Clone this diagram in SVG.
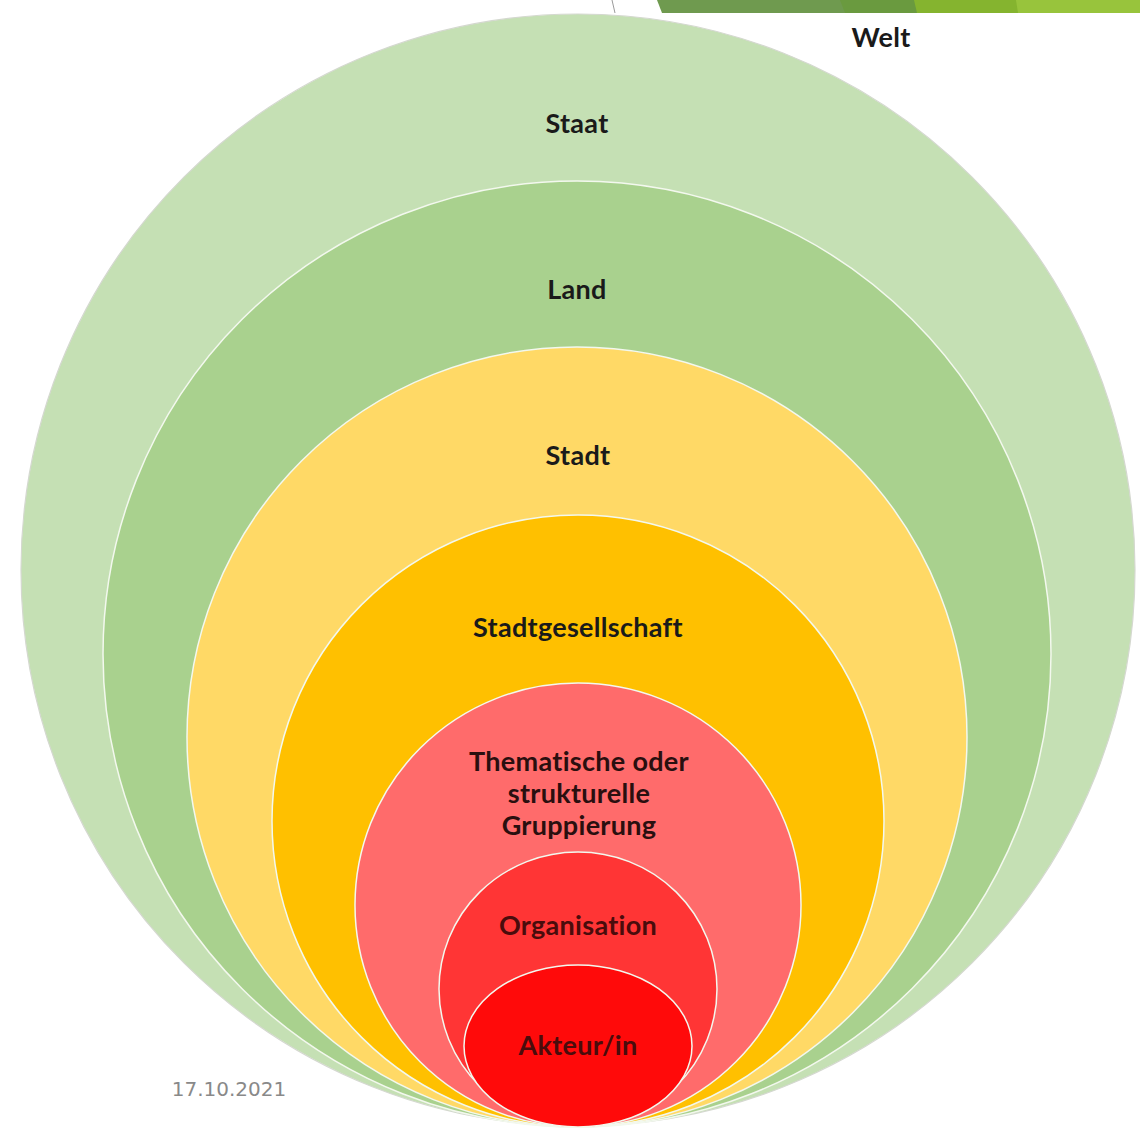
<svg xmlns="http://www.w3.org/2000/svg" width="1140" height="1131" viewBox="0 0 1140 1131">
<style>
.lbl{font-family:Lato,"Open Sans","Liberation Sans",sans-serif;font-weight:bold;font-size:27px;letter-spacing:0.3px;text-anchor:middle;fill:#1a1a1a}
.red{fill:#4a0c0c}
.ring{stroke:#f3f8ee;stroke-width:1.5}
</style>
<rect width="1140" height="1131" fill="#ffffff"/>
<g id="banner">
<line x1="612" y1="0" x2="615" y2="13" stroke="#9a9a9a" stroke-width="1"/>
<polygon points="657,0 842,0 846,13 662,13" fill="#6f9a4f"/>
<polygon points="840,0 916,0 918,13 845,13" fill="#6a9a3f"/>
<polygon points="914,0 1018,0 1019,13 917,13" fill="#85b42f"/>
<polygon points="1016,0 1140,0 1140,13 1018,13" fill="#98c43c"/>
</g>
<g id="staat">
<ellipse cx="578" cy="570" rx="557" ry="556" fill="#c5e0b4" stroke="#d4d8cf" stroke-width="1.2"/>
<text class="lbl" x="577" y="133">Staat</text>
</g>
<g id="land">
<ellipse class="ring" cx="577" cy="654" rx="474" ry="473" fill="#a9d18e"/>
<text class="lbl" x="577" y="299">Land</text>
</g>
<g id="stadt">
<ellipse class="ring" cx="577" cy="737" rx="390" ry="390" fill="#ffd966" stroke="#fff3c4"/>
<text class="lbl" x="578" y="465">Stadt</text>
</g>
<g id="stadtgesellschaft">
<ellipse class="ring" cx="578" cy="821" rx="306" ry="306" fill="#ffc000" stroke="#ffe9a0"/>
<text class="lbl" x="578" y="637">Stadtgesellschaft</text>
</g>
<g id="gruppierung">
<ellipse class="ring" cx="578" cy="905" rx="223" ry="222" fill="#ff6b6b" stroke="#ffd0d0"/>
<text class="lbl" x="579" y="771" style="fill:#2a0f0f">Thematische oder</text>
<text class="lbl" x="579" y="803" style="fill:#2a0f0f">strukturelle</text>
<text class="lbl" x="579" y="835" style="fill:#2a0f0f">Gruppierung</text>
</g>
<g id="organisation">
<ellipse class="ring" cx="578" cy="989" rx="139" ry="137" fill="#ff3535" stroke="#ffe0e0"/>
<text class="lbl red" x="578" y="935">Organisation</text>
</g>
<g id="akteur">
<ellipse class="ring" cx="578" cy="1046" rx="114" ry="81" fill="#ff0a0a" stroke="#ffd6d6"/>
<text class="lbl red" x="578" y="1055">Akteur/in</text>
</g>
<g id="welt">
<text class="lbl" x="881" y="47">Welt</text>
</g>
<g id="connectors"></g>
<text x="229" y="1096" font-family="'DejaVu Sans',sans-serif" font-size="20" fill="#898989" text-anchor="middle">17.10.2021</text>
</svg>
